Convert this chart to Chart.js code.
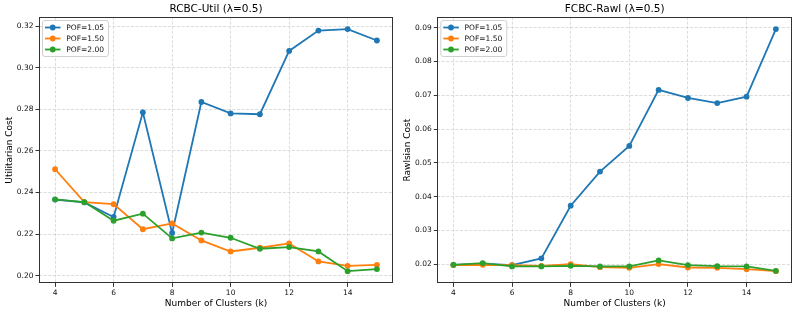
<!DOCTYPE html>
<html><head><meta charset="utf-8">
<script src="https://cdn.jsdelivr.net/npm/chart.js@4/dist/chart.umd.min.js"></script>
<style>
html,body{margin:0;padding:0;background:#fff;}
#wrap{position:relative;width:797px;height:313px;overflow:hidden;}
canvas{position:absolute;top:0;}
</style></head><body>
<div id="wrap">
<canvas id="c1" width="398" height="313" style="left:0"></canvas>
<canvas id="c2" width="399" height="313" style="left:398px"></canvas>
</div>
<script>
// ---- data ----
const clusters = [4, 5, 6, 7, 8, 9, 10, 11, 12, 13, 14, 15];
const xTicks = [4, 6, 8, 10, 12, 14];
const utilTicks = [0.20, 0.22, 0.24, 0.26, 0.28, 0.30, 0.32];
const rawlTicks = [0.02, 0.03, 0.04, 0.05, 0.06, 0.07, 0.08, 0.09];
const seriesNames = ['POF=1.05', 'POF=1.50', 'POF=2.00'];

const utilPof105 = [0.2366, 0.2352, 0.2282, 0.2786, 0.2205, 0.2836, 0.2781, 0.2777, 0.3082, 0.3180, 0.3187, 0.3132];
const utilPof150 = [0.2512, 0.2354, 0.2344, 0.2223, 0.2251, 0.2169, 0.2116, 0.2134, 0.2155, 0.2068, 0.2047, 0.2051];
const utilPof200 = [0.2367, 0.2354, 0.2264, 0.2298, 0.2179, 0.2207, 0.2182, 0.2129, 0.2137, 0.2116, 0.2021, 0.2031];

const rawlPof105 = [0.0198, 0.0201, 0.0197, 0.0217, 0.0373, 0.0474, 0.0550, 0.0716, 0.0692, 0.0677, 0.0696, 0.0896];
const rawlPof150 = [0.0197, 0.0198, 0.0197, 0.0195, 0.0200, 0.0191, 0.0189, 0.0200, 0.0190, 0.0189, 0.0185, 0.0179];
const rawlPof200 = [0.0198, 0.0203, 0.0193, 0.0193, 0.0195, 0.0193, 0.0193, 0.0211, 0.0197, 0.0194, 0.0193, 0.0180];

// ---- styling ----
const colors = ['#1f77b4', '#ff7f0e', '#2ca02c'];
const FONT = '"DejaVu Sans", Verdana, sans-serif';

function bounds(arrs) {
  const all = [].concat(...arrs);
  const lo = Math.min(...all), hi = Math.max(...all), m = (hi - lo) * 0.05;
  return [lo - m, hi + m];
}

const framePlugin = {
  id: 'mplFrame',
  afterDraw(chart) {
    const ctx = chart.ctx, a = chart.chartArea;
    ctx.save();
    ctx.strokeStyle = '#333';
    ctx.lineWidth = 1;
    ctx.strokeRect(Math.round(a.left) + 0.5, Math.round(a.top) + 0.5,
                   Math.round(a.right - a.left) - 1, Math.round(a.bottom - a.top) - 1);
    // legend
    const bx = a.left + 3.5, by = a.top + 3.5, bw = 66, bh = 36;
    ctx.beginPath();
    const r = 2.5;
    ctx.moveTo(bx + r, by);
    ctx.arcTo(bx + bw, by, bx + bw, by + bh, r);
    ctx.arcTo(bx + bw, by + bh, bx, by + bh, r);
    ctx.arcTo(bx, by + bh, bx, by, r);
    ctx.arcTo(bx, by, bx + bw, by, r);
    ctx.closePath();
    ctx.fillStyle = 'rgba(255,255,255,0.85)';
    ctx.fill();
    ctx.strokeStyle = '#d0d0d0';
    ctx.lineWidth = 1;
    ctx.stroke();
    ctx.font = '7.5px ' + FONT;
    ctx.textBaseline = 'middle';
    ctx.textAlign = 'left';
    seriesNames.forEach((name, i) => {
      const y = by + 7 + i * 11;
      ctx.strokeStyle = colors[i];
      ctx.lineWidth = 1.8;
      ctx.beginPath();
      ctx.moveTo(a.left + 6, y);
      ctx.lineTo(a.left + 21.5, y);
      ctx.stroke();
      ctx.fillStyle = colors[i];
      ctx.beginPath();
      ctx.arc(a.left + 13.7, y, 2.9, 0, Math.PI * 2);
      ctx.fill();
      ctx.fillStyle = '#111';
      ctx.fillText(name, a.left + 27.3, y + 0.5);
    });
    ctx.restore();
  }
};

function makeChart(id, title, yTitle, series, yTicks, yAxisW) {
  const [ymin, ymax] = bounds(series);
  const [xmin, xmax] = bounds([clusters]);
  const datasets = series.map((vals, i) => ({
    label: seriesNames[i],
    data: clusters.map((k, j) => ({ x: k, y: vals[j] })),
    borderColor: colors[i],
    backgroundColor: colors[i],
    pointBackgroundColor: colors[i],
    pointBorderWidth: 0,
    pointRadius: 2.9,
    borderWidth: 1.8,
    tension: 0,
    order: 2 - i
  }));
  const gridCommon = {
    color: 'rgba(200,200,200,0.8)',
    lineWidth: 0.8,
    tickColor: '#333',
    tickLength: 3.5,
    tickWidth: 1
  };
  new Chart(document.getElementById(id), {
    type: 'line',
    data: { datasets },
    plugins: [framePlugin],
    options: {
      responsive: false,
      animation: false,
      events: [],
      layout: { padding: { left: 0, right: 5, top: 0, bottom: 0 } },
      plugins: {
        legend: { display: false },
        tooltip: { enabled: false },
        title: {
          display: true, text: title, fullSize: false,
          color: '#000',
          font: { family: FONT, size: 10.5, weight: 'normal', lineHeight: 1.2 },
          padding: { top: 3, bottom: 1.4 }
        }
      },
      scales: {
        x: {
          type: 'linear', min: xmin, max: xmax,
          afterBuildTicks: s => { s.ticks = xTicks.map(v => ({ value: v })); },
          afterFit: s => { s.height = 29.7; },
          ticks: { font: { family: FONT, size: 7.5 }, color: '#111', padding: 2, maxRotation: 0,
                   callback: v => String(v) },
          grid: gridCommon,
          border: { display: false, dash: [3, 1.6] },
          title: { display: true, text: 'Number of Clusters (k)', color: '#000',
                   font: { family: FONT, size: 9 }, padding: { top: 0, bottom: 4.3 } }
        },
        y: {
          type: 'linear', min: ymin, max: ymax,
          afterBuildTicks: s => { s.ticks = yTicks.map(v => ({ value: v })); },
          afterFit: s => { s.width = yAxisW; },
          ticks: { font: { family: FONT, size: 7.5 }, color: '#111', padding: 2,
                   callback: v => v.toFixed(2) },
          grid: gridCommon,
          border: { display: false, dash: [3, 1.6] },
          title: { display: true, text: yTitle, color: '#000',
                   font: { family: FONT, size: 9 }, padding: { top: 4, bottom: 0 } }
        }
      }
    }
  });
}

makeChart('c1', 'RCBC-Util (λ=0.5)', 'Utilitarian Cost', [utilPof105, utilPof150, utilPof200], utilTicks, 39);
makeChart('c2', 'FCBC-Rawl (λ=0.5)', 'Rawlsian Cost', [rawlPof105, rawlPof150, rawlPof200], rawlTicks, 39.3);
</script>
</body></html>
